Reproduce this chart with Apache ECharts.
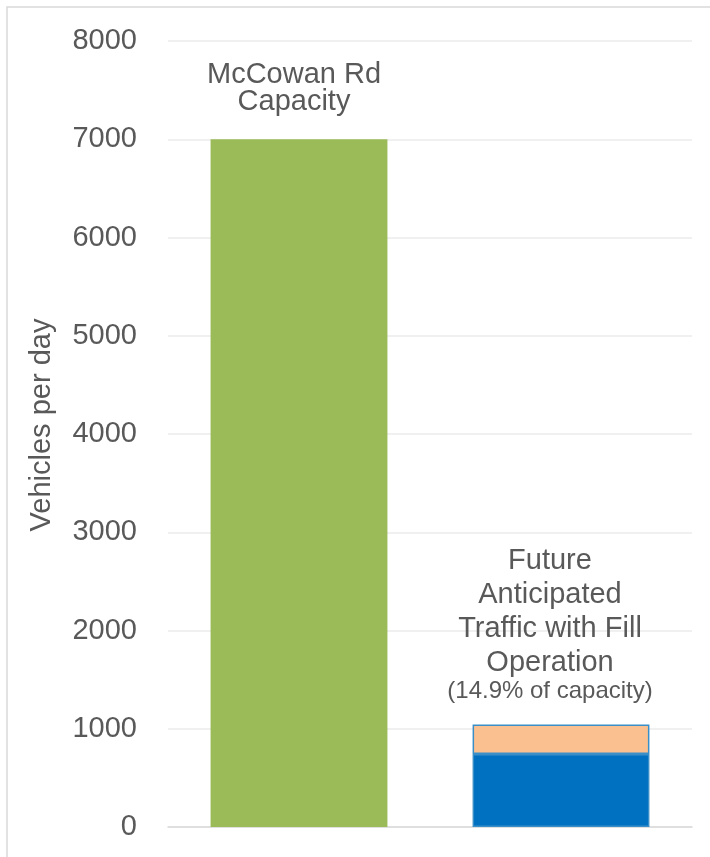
<!DOCTYPE html>
<html>
<head>
<meta charset="utf-8">
<script src="https://cdn.jsdelivr.net/npm/echarts@6/dist/echarts.min.js"></script>
<style>
html,body{margin:0;padding:0;background:#fff;}
#chart{width:710px;height:857px;}
</style>
</head>
<body>
<div id="chart"></div>
<script>
const categories = ['McCowan Rd Capacity', 'Future Anticipated Traffic with Fill Operation'];
const capacityValues = [7000, null];
const existingTrafficValues = [null, 743];
const fillTrafficValues = [null, 300];
const yTicks = [0, 1000, 2000, 3000, 4000, 5000, 6000, 7000, 8000];
const capacityLabel = 'McCowan Rd\nCapacity';
const futureLabelLines = ['Future', 'Anticipated', 'Traffic with Fill', 'Operation'];
const futureNote = '(14.9% of capacity)';

const FONT = '"Liberation Sans", Arial, sans-serif';
const TXT = '#595959';
const chart = echarts.init(document.getElementById('chart'));
chart.setOption({
  animation: false,
  backgroundColor: '#ffffff',
  graphic: [{
    type: 'rect',
    shape: {x: 7, y: 7, width: 760, height: 900},
    style: {fill: 'none', stroke: '#D9D9D9', lineWidth: 1.5},
    silent: true
  }],
  grid: {left: 168, right: 18, top: 41, bottom: 30, containLabel: false},
  xAxis: {
    type: 'category',
    data: categories,
    axisLine: {show: true, lineStyle: {color: '#D9D9D9', width: 1.5}},
    axisTick: {show: false},
    axisLabel: {show: false}
  },
  yAxis: {
    type: 'value',
    min: yTicks[0],
    max: yTicks[yTicks.length - 1],
    interval: 1000,
    name: 'Vehicles per day',
    nameLocation: 'middle',
    nameGap: 112,
    nameTextStyle: {fontFamily: FONT, fontSize: 29, color: TXT, padding: [0, 0, 0, 18]},
    axisLine: {show: false},
    axisTick: {show: false},
    axisLabel: {fontFamily: FONT, fontSize: 29, color: TXT, margin: 31, formatter: v => String(v)},
    splitLine: {lineStyle: {color: '#EBEBEB', width: 1.5}}
  },
  series: [
    {
      name: 'Capacity',
      type: 'bar',
      stack: 'total',
      data: capacityValues,
      barWidth: '67.5%',
      itemStyle: {color: '#9BBB59'},
      label: {
        show: true, position: 'top', distance: 24, offset: [-5, 0],
        formatter: capacityLabel,
        fontFamily: FONT, fontSize: 29, color: TXT, lineHeight: 27, align: 'center'
      }
    },
    {
      name: 'Existing',
      type: 'bar',
      stack: 'total',
      data: existingTrafficValues,
      barWidth: '67.5%',
      itemStyle: {color: '#0070C0', borderColor: '#3A8FC8', borderWidth: 1.5}
    },
    {
      name: 'Fill Operation',
      type: 'bar',
      stack: 'total',
      data: fillTrafficValues,
      barWidth: '67.5%',
      itemStyle: {color: '#FAC090', borderColor: '#3A8FC8', borderWidth: 1.5},
      label: {
        show: true, position: 'top', distance: 21, offset: [-11, 0],
        formatter: futureLabelLines.map(s => '{a|' + s + '}').join('\n') + '\n{b|' + futureNote + '}',
        align: 'center',
        rich: {
          a: {fontFamily: FONT, fontSize: 29, color: TXT, lineHeight: 34, align: 'center'},
          b: {fontFamily: FONT, fontSize: 24, color: TXT, lineHeight: 24, align: 'center'}
        }
      }
    }
  ]
});
</script>
</body>
</html>
